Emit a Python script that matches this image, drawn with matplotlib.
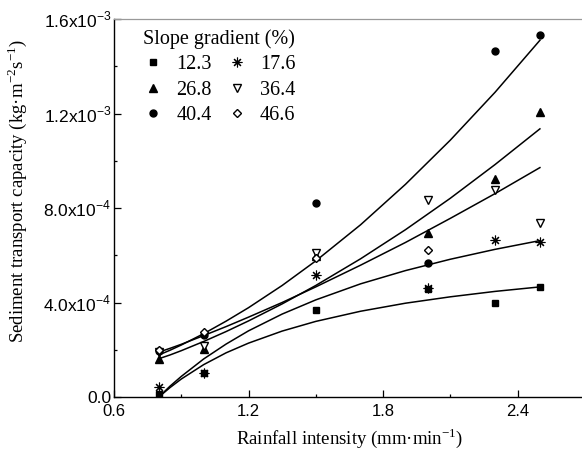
import matplotlib
matplotlib.use('Agg')
import matplotlib.pyplot as plt
import numpy as np
from matplotlib.ticker import MultipleLocator

# rainfall intensity (mm/min) of the measured points
rain = [0.8, 1.0, 1.5, 2.0, 2.3, 2.5]
rain_46 = [0.8, 1.0, 1.5, 2.0]

# sediment transport capacity, in units of 1e-4 kg m-2 s-1
stc_12_3 = [0.11, 1.00, 3.68, 4.57, 3.99, 4.64]
stc_17_6 = [0.44, 1.00, 5.18, 4.60, 6.65, 6.56]
stc_26_8 = [1.60, 2.03, 5.95, 6.95, 9.21, 12.06]
stc_36_4 = [1.90, 2.14, 6.10, 8.33, 8.76, 7.36]
stc_40_4 = [1.95, 2.63, 8.22, 5.68, 14.63, 15.34]
stc_46_6 = [1.97, 2.75, 5.89, 6.21]

# fitted curves (same units)
fit_x = [0.8, 0.85, 0.9, 1.0, 1.1, 1.2, 1.35, 1.5, 1.7, 1.9, 2.1, 2.3, 2.5]
fit_40_4 = [1.78, 1.98, 2.20, 2.68, 3.21, 3.78, 4.72, 5.76, 7.29, 9.00, 10.87, 12.90, 15.10]
fit_26_8 = [1.62, 1.78, 1.96, 2.35, 2.77, 3.22, 3.94, 4.72, 5.85, 7.08, 8.41, 9.84, 11.35]
fit_36_4 = [1.90, 2.06, 2.23, 2.60, 2.98, 3.38, 4.00, 4.66, 5.58, 6.54, 7.56, 8.61, 9.71]
fit_17_6 = [0.00, 0.46, 0.87, 1.61, 2.24, 2.80, 3.51, 4.11, 4.79, 5.35, 5.83, 6.25, 6.62]
fit_12_3 = [0.00, 0.40, 0.76, 1.37, 1.87, 2.28, 2.79, 3.20, 3.63, 3.97, 4.24, 4.47, 4.66]

ytick_vals = [0, 4e-4, 8e-4, 1.2e-3, 1.6e-3]
ytick_labels = ['0.0', r'4.0x10$^{\mathregular{-4}}$', r'8.0x10$^{\mathregular{-4}}$',
                r'1.2x10$^{\mathregular{-3}}$', r'1.6x10$^{\mathregular{-3}}$']

sc = 1e-4
serif = 'Liberation Serif'
sans = 'Liberation Sans'

fig = plt.figure(figsize=(5.82, 4.54), dpi=100)
ax = fig.add_axes([114/582, 57/454, 470.75/582, 378/454])

# fitted lines
for fy in [fit_40_4, fit_26_8, fit_36_4, fit_17_6, fit_12_3]:
    ax.plot(fit_x, np.array(fy)*sc, color='black', lw=1.1, zorder=2)

mk = dict(linestyle='none', color='black', zorder=3)
h1, = ax.plot(rain, np.array(stc_12_3)*sc, marker='s', ms=4.5, **mk)
h3, = ax.plot(rain, np.array(stc_26_8)*sc, marker='^', ms=5.5, **mk)
h4, = ax.plot(rain, np.array(stc_36_4)*sc, marker='v', ms=5.5, mfc='white', mew=1.0, **mk)
h5, = ax.plot(rain, np.array(stc_40_4)*sc, marker='o', ms=5, **mk)
h6, = ax.plot(rain_46, np.array(stc_46_6)*sc, marker='D', ms=4.5, mfc='white', mew=1.0, **mk)
h2, = ax.plot(rain, np.array(stc_17_6)*sc, marker=(8, 2, 0), ms=7, mew=0.8, **mk)

leg = ax.legend([h1, h3, h5, h2, h4, h6],
                ['12.3', '26.8', '40.4', '17.6', '36.4', '46.6'],
                ncol=2, frameon=False, title='Slope gradient (%)',
                prop={'family': serif, 'size': 14.5},
                title_fontproperties={'family': serif, 'size': 14.5},
                loc='upper left', bbox_to_anchor=(0.04, 1.0),
                handlelength=1.0, handletextpad=0.65, columnspacing=0.75,
                labelspacing=0.32, borderaxespad=0.1, alignment='left')

ax.set_xlim(0.6, 2.7)
ax.set_ylim(0, 1.6e-3)
ax.set_xticks([0.6, 1.2, 1.8, 2.4])
ax.set_xticklabels(['0.6', '1.2', '1.8', '2.4'])
ax.xaxis.set_minor_locator(MultipleLocator(0.3))
ax.set_yticks(ytick_vals)
ax.set_yticklabels(ytick_labels)
ax.yaxis.set_minor_locator(MultipleLocator(2e-4))
ax.tick_params(which='both', direction='in', width=0.9, labelsize=12)
ax.tick_params(axis='y', labelsize=12.5)
ax.tick_params(which='major', length=5)
ax.tick_params(which='minor', length=2.5)
ax.tick_params(axis='y', pad=2)
ax.tick_params(axis='x', pad=5)
for lab in ax.get_xticklabels() + ax.get_yticklabels():
    lab.set_family(sans)

ax.set_xlabel(r'Rainfall intensity (mm·min$^{\mathregular{-1}}$)', family=serif, fontsize=13.5)
ax.set_ylabel(r'Sediment transport capacity (kg·m$^{\mathregular{-2}}$s$^{\mathregular{-1}}$)',
              family=serif, fontsize=13.5)
ax.yaxis.set_label_coords(-0.18, 0.545)
ax.xaxis.set_label_coords(0.5, -0.077)

for s in ['left', 'bottom']:
    ax.spines[s].set_linewidth(1.0)
ax.spines['top'].set_color('#999999')
ax.spines['top'].set_linewidth(0.9)

fig.savefig('out.png', dpi=100)
